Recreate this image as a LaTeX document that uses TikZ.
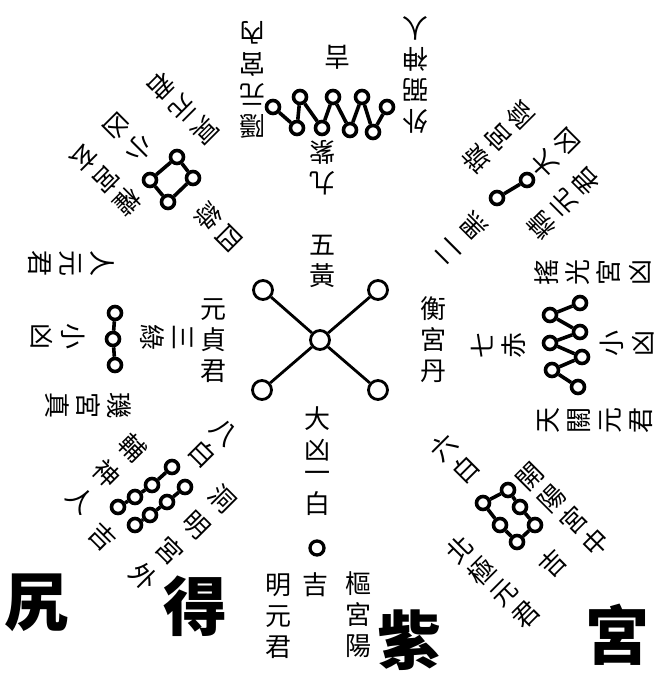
\documentclass[tikz,border=0pt]{standalone}
\usepackage{fontspec}
\newfontfamily\cjk{Noto Sans CJK TC}
\usetikzlibrary{positioning}

\begin{document}
\begin{tikzpicture}[
  x=1pt,y=-1pt,
  st/.style={draw,circle,line width=3.6pt,fill=white,minimum size=13pt,inner sep=0pt},
  bst/.style={st,line width=2.8pt,minimum size=19pt},
  lk/.style={line width=3.6pt},
  clk/.style={line width=2.8pt},
  col/.style={font=\cjk\fontsize{26}{31}\selectfont,align=center,inner sep=0pt},
  wcol/.style={col,font=\cjk\fontsize{26}{37}\selectfont},
  seal/.style={font=\cjk\bfseries\fontsize{64}{64}\selectfont,inner sep=0pt}
]
\useasboundingbox (0,0) rectangle (661,687);
% centre: five yellow
\node[bst] (c0) at (320,340) {};
\node[bst] (c1) at (263,290) {};
\node[bst] (c2) at (378,290) {};
\node[bst] (c3) at (262,390) {};
\node[bst] (c4) at (378,390) {};
\foreach \k in {1,...,4} \draw[clk] (c0) -- (c\k);
\node[col] (wuhuang) at (322,261) {五\\黃};
\node[col] (heng) at (433,340) {衡\\宮\\丹};
\node[col] (danyuan) at (213,341) {元\\貞\\君};
% south: one white
\node[col] (daxiong) at (317,434) {大\\凶};
\node[col] (yibai) at (317,493) {一\\白};
\node[st,line width=3.3pt,minimum size=14pt] (s1) at (317,548) {};
\node[col] (sji) at (315,585) {吉};
\node[col] (shu) at (358,615) {樞\\宮\\陽};
\node[col] (yangming) at (278,616) {明\\元\\君};
% east: seven red
\node[col,rotate=90] (qichi) at (498,345) {七\\赤};
\foreach \p [count=\i] in {(580,303),(550,315),(580,332),(550,343),(582,357),(552,370),(578,387)}
  \node[st] (r\i) at \p {};
\foreach \i [evaluate=\i as \j using int(\i+1)] in {1,...,6} \draw[lk] (r\i) -- (r\j);
\node[col,rotate=90] (rxiao) at (627,343) {小\\凶};
\node[col,rotate=90] (yaoguang) at (593,272) {搖\\光\\宮\\凶};
\node[col,rotate=90] (tianguan) at (595,420) {天\\關\\元\\君};
% west: three green
\node[col,rotate=-90] (sanlu) at (167,337) {三\\綠};
\foreach \p [count=\i] in {(115,313),(113,339),(115,365)}
  \node[st] (l\i) at \p {};
\draw[lk] (l1) -- (l2) (l2) -- (l3);
\node[col,rotate=-90] (lxiao) at (58,336) {小\\凶};
\node[col,rotate=-90] (zhenren) at (71,263) {人\\元\\君};
\node[col,rotate=-90] (ji) at (88,405) {璣\\宮\\真};
% north: nine purple
\node[col,rotate=180] (jiuzi) at (322,168) {九\\紫};
\foreach \p [count=\i] in {(273,107),(297,128),(300,97),(322,128),(333,97),(350,130),(362,97),(373,132),(387,107)}
  \node[st] (t\i) at \p {};
\foreach \i [evaluate=\i as \j using int(\i+1)] in {1,...,8} \draw[lk] (t\i) -- (t\j);
\node[col,rotate=180] (tji) at (337,57) {吉};
\node[col,rotate=180] (yinyuan) at (252,80) {隱\\元\\宮\\內};
\node[col,rotate=180] (bishen) at (415,75) {外\\弼\\神\\人};
% north-east: two black
\node[wcol,rotate=135] (erhei) at (462,238) {二\\黑};
\node[st] (ne1) at (497,198) {};
\node[st] (ne2) at (527,180) {};
\draw[lk] (ne1) -- (ne2);
\node[col,rotate=135] (nexiong) at (555,153) {大\\凶};
\node[col,rotate=135] (xuan) at (498,137) {璇\\宮\\陰};
\node[col,rotate=135] (yinjing) at (563,203) {精\\元\\君};
% north-west: four green
\node[col,rotate=-135] (silu) at (218,227) {四\\綠};
\foreach \p [count=\i] in {(177,157),(193,178),(168,202),(150,180)}
  \node[st] (nw\i) at \p {};
\draw[lk] (nw1) -- (nw2) -- (nw3) -- (nw4) -- (nw1);
\node[col,rotate=-135] (nwxiao) at (128,138) {小\\凶};
\node[col,rotate=-135] (xuanming) at (183,108) {冥\\元\\君};
\node[col,rotate=-135] (quan) at (106,180) {權\\宮\\玄};
% south-east: six white
\node[col,rotate=45] (liubai) at (455,458) {六\\白};
\foreach \p [count=\i] in {(508,490),(520,507),(535,525),(517,542),(500,525),(483,503)}
  \node[st] (se\i) at \p {};
\draw[lk] (se1) -- (se2) -- (se3) -- (se4) -- (se5) -- (se6) -- (se1);
\node[col,rotate=45] (seji) at (553,563) {吉};
\node[col,rotate=45] (kaiyang) at (563,510) {開\\陽\\宮\\中};
\node[col,rotate=45] (beiji) at (493,582) {北\\極\\元\\君};
% south-west: eight white
\node[col,rotate=-45] (babai) at (213,443) {八\\白};
\foreach \p [count=\i] in {(172,467),(152,485),(135,497),(118,507)}
  \node[st] (sa\i) at \p {};
\foreach \p [count=\i] in {(185,487),(167,502),(150,515),(135,525)}
  \node[st] (sb\i) at \p {};
\draw[lk] (sa1) -- (sa2) -- (sa3) -- (sa4);
\draw[lk] (sb1) -- (sb2) -- (sb3) -- (sb4);
\node[col,rotate=-45] (swji) at (103,537) {吉};
\node[wcol,rotate=-45] (fushen) at (107,474) {輔\\神\\人};
\node[wcol,rotate=-45] (dongming) at (183,538) {洞\\明\\宮\\外};
% seal title
\node[seal] (z1) at (37,603) {尻};
\node[seal] (z2) at (195,606) {得};
\node[seal] (z3) at (409,640) {紫};
\node[seal] (z4) at (617,635) {宮};
\end{tikzpicture}
\end{document}
